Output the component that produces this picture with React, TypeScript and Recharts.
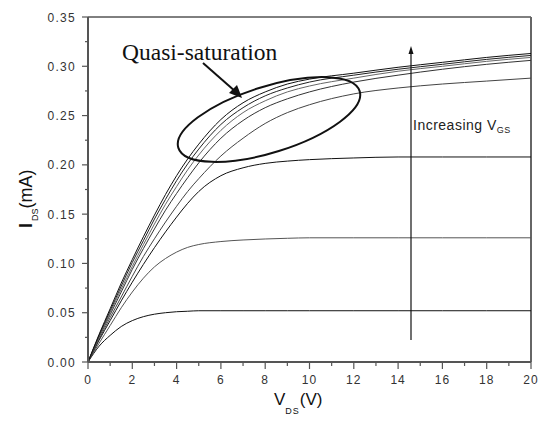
import React from 'react';
import {LineChart, Line, XAxis, YAxis, ReferenceLine} from 'recharts';

// V_DS sample points (V)
const vds = [0, 0.5, 1, 1.5, 2, 2.5, 3, 3.5, 4, 4.5, 5, 6, 7, 8, 9, 10, 12, 14, 16, 18, 20];

// I_DS (mA), one array per gate voltage, lowest first
const ids1 = [0, 0.016, 0.027, 0.036, 0.042, 0.046, 0.0485, 0.050, 0.051, 0.0515, 0.052, 0.052, 0.052, 0.052, 0.052, 0.052, 0.052, 0.052, 0.052, 0.052, 0.052];
const ids2 = [0, 0.019, 0.037, 0.055, 0.071, 0.085, 0.0965, 0.105, 0.1115, 0.1163, 0.1192, 0.1222, 0.1238, 0.1248, 0.1255, 0.126, 0.126, 0.126, 0.126, 0.126, 0.126];
const ids3 = [0, 0.022, 0.042, 0.062, 0.081, 0.099, 0.116, 0.132, 0.147, 0.161, 0.173, 0.189, 0.197, 0.2015, 0.2038, 0.2053, 0.207, 0.208, 0.208, 0.208, 0.208];
const ids4 = [0, 0.023, 0.045, 0.066, 0.087, 0.107, 0.125, 0.142, 0.158, 0.173, 0.186, 0.209, 0.227, 0.242, 0.253, 0.261, 0.272, 0.278, 0.282, 0.285, 0.288];
const ids5 = [0, 0.025, 0.048, 0.071, 0.094, 0.115, 0.135, 0.154, 0.171, 0.187, 0.202, 0.227, 0.245, 0.258, 0.267, 0.274, 0.284, 0.291, 0.297, 0.302, 0.306];
const ids6 = [0, 0.026, 0.050, 0.074, 0.097, 0.119, 0.140, 0.160, 0.178, 0.195, 0.210, 0.235, 0.253, 0.265, 0.274, 0.280, 0.288, 0.295, 0.300, 0.305, 0.309];
const ids7 = [0, 0.027, 0.052, 0.077, 0.101, 0.123, 0.145, 0.165, 0.184, 0.201, 0.216, 0.241, 0.258, 0.270, 0.278, 0.284, 0.291, 0.297, 0.302, 0.307, 0.311];
const ids8 = [0, 0.028, 0.054, 0.080, 0.104, 0.127, 0.149, 0.170, 0.189, 0.206, 0.221, 0.246, 0.263, 0.274, 0.282, 0.287, 0.293, 0.299, 0.304, 0.309, 0.313];

const xTicks = [0, 1, 2, 3, 4, 5, 6, 7, 8, 9, 10, 11, 12, 13, 14, 15, 16, 17, 18, 19, 20];
const xMajor = [0, 2, 4, 6, 8, 10, 12, 14, 16, 18, 20];
const yTicks = [0, 0.025, 0.05, 0.075, 0.1, 0.125, 0.15, 0.175, 0.2, 0.225, 0.25, 0.275, 0.3, 0.325, 0.35];
const yMajor = ['0.00', '0.05', '0.10', '0.15', '0.20', '0.25', '0.30', '0.35'];

const series = [ids1, ids2, ids3, ids4, ids5, ids6, ids7, ids8];
const colors = ['#111', '#555', '#111', '#444', '#333', '#666', '#222', '#111'];

const data = vds.map((v, i) => {
    const row: any = {v};
    series.forEach((s, k) => { row['c' + (k + 1)] = s[i]; });
    return row;
});

const sans = '"Liberation Sans", Arial, sans-serif';
const serif = '"Liberation Serif", "Times New Roman", serif';

const XTick = (props: any) => {
    const {x, y, payload} = props;
    const major = xMajor.includes(payload.value);
    return (
        <g>
            <line x1={x} x2={x} y1={y} y2={y + (major ? 7 : 4)} stroke="#555" strokeWidth={1.2}/>
            {major && (
                <text x={x} y={y + 22} textAnchor="middle" fontFamily={sans} fontSize={12}
                      letterSpacing={1} fill="#333">{payload.value}</text>
            )}
        </g>
    );
};

const YTick = (props: any) => {
    const {x, y, payload} = props;
    const label = payload.value.toFixed(2);
    const major = yMajor.includes(label);
    return (
        <g>
            <line x1={x - (major ? 6 : 3)} x2={x} y1={y} y2={y} stroke="#555" strokeWidth={1.2}/>
            {major && (
                <text x={x - 12} y={y + 4.5} textAnchor="end" fontFamily={sans} fontSize={12}
                      letterSpacing={1.3} fill="#333">{label}</text>
            )}
        </g>
    );
};

export default function App() {
    return (
        <div style={{position: 'absolute', left: 0, top: 0, width: 540, height: 423, background: '#fff'}}>
            <LineChart width={540} height={423} data={data} margin={{top: 17, right: 9, left: 0, bottom: 0}}>
                <XAxis dataKey="v" type="number" domain={[0, 20]} ticks={xTicks} interval={0}
                       tick={<XTick/>} tickLine={false} tickSize={0} tickMargin={0} height={61}
                       axisLine={{stroke: '#555', strokeWidth: 2}}/>
                <YAxis type="number" domain={[0, 0.35]} ticks={yTicks} interval={0}
                       tick={<YTick/>} tickLine={false} tickSize={0} tickMargin={0} width={88}
                       axisLine={{stroke: '#555', strokeWidth: 2}}/>
                <ReferenceLine y={0.35} stroke="#000" strokeWidth={1}/>
                <ReferenceLine x={20} stroke="#666" strokeWidth={2}/>
                {series.map((_, k) => (
                    <Line key={k} type="monotone" dataKey={'c' + (k + 1)} stroke={colors[k]} strokeWidth={1}
                          dot={false} activeDot={false} isAnimationActive={false}/>
                ))}
            </LineChart>
            <svg width={540} height={423} style={{position: 'absolute', left: 0, top: 0, pointerEvents: 'none'}}>
                <ellipse cx={269} cy={119.5} rx={95} ry={33} transform="rotate(-17.4 269 119.5)"
                         fill="none" stroke="#111" strokeWidth={2}/>
                <line x1={203} y1={63} x2={236} y2={92} stroke="#111" strokeWidth={2}/>
                <polygon points="242,98 229,93 237,85" fill="#111"/>
                <text x={122} y={60} fontFamily={serif} fontSize={23.5} fill="#111">Quasi-saturation</text>
                <line x1={411} y1={340} x2={411} y2={52} stroke="#111" strokeWidth={1.2}/>
                <polygon points="411,46 408.5,54 413.5,54" fill="#111"/>
                <text x={413} y={130} fontFamily={sans} fontSize={14} letterSpacing={0.5} fill="#222">
                    Increasing V<tspan fontSize={9} dy={3}>GS</tspan>
                </text>
                <text x={274} y={405} fontFamily={sans} fontSize={17} fill="#111">
                    V<tspan fontSize={9} dy={9} letterSpacing={1}>DS</tspan><tspan dy={-9}>(V)</tspan>
                </text>
                <text x={32} y={228} transform="rotate(-90 32 228)" fontFamily={sans} fontSize={18} fill="#111">
                    <tspan fontWeight="bold">I</tspan><tspan fontSize={9} dy={6} dx={2}>DS</tspan><tspan dy={-6}>(mA)</tspan>
                </text>
            </svg>
        </div>
    );
}
